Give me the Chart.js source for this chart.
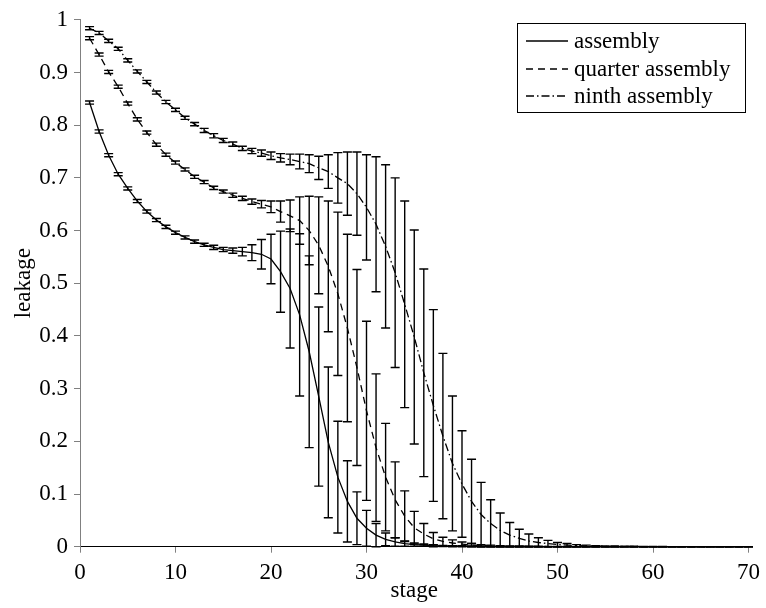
<!DOCTYPE html>
<html><head><meta charset="utf-8">
<script src="https://cdn.jsdelivr.net/npm/chart.js@4/dist/chart.umd.min.js"></script>
<style>html,body{margin:0;padding:0;background:#fff;}</style>
</head><body>
<canvas id="c" width="766" height="608"></canvas>
<script>
const stages = [1,2,3,4,5,6,7,8,9,10,11,12,13,14,15,16,17,18,19,20,21,22,23,24,25,26,27,28,29,30,31,32,33,34,35,36,37,38,39,40,41,42,43,44,45,46,47,48,49,50,51,52,53,54,55,56,57,58,59,60,61,62,63,64,65,66,67,68,69,70];
const seriesNames = ['assembly','quarter assembly','ninth assembly'];
const xTickLabels = ['0','10','20','30','40','50','60','70'];
const yTickLabels = ['0','0.1','0.2','0.3','0.4','0.5','0.6','0.7','0.8','0.9','1'];

const assemblyMean = [0.843,0.788,0.743,0.707,0.680,0.656,0.636,0.620,0.607,0.596,
0.587,0.579,0.573,0.568,0.564,0.562,0.560,0.558,0.555,0.546,
0.522,0.490,0.440,0.370,0.285,0.198,0.132,0.086,0.054,0.035,
0.022,0.014,0.009,0.006,0.004,0.003,0.002,0.0015,0.001,0.001,
0.0008,0.0006,0.0005,0.0004,0.0003,0.0002,0.0002,0.0001,0.0001,0.0001,
0,0,0,0,0,0,0,0,0,0,0,0,0,0,0,0,0,0,0,0];
const assemblyErr = [0.003,0.003,0.003,0.003,0.003,0.003,0.003,0.003,0.003,0.003,
0.003,0.003,0.003,0.004,0.004,0.005,0.008,0.015,0.028,0.047,
0.077,0.113,0.154,0.182,0.170,0.143,0.106,0.077,0.050,0.034,
0.022,0.012,0.008,0.005,0.003,0.002,0.002,0.001,0.001,0.001,
0.0008,0.0006,0.0005,0.0004,0.0003,0.0002,0.0002,0.0001,0.0001,0.0001,
0,0,0,0,0,0,0,0,0,0,0,0,0,0,0,0,0,0,0,0];

const quarterMean = [0.965,0.934,0.901,0.873,0.841,0.811,0.786,0.763,0.744,0.729,
0.716,0.702,0.692,0.681,0.674,0.667,0.661,0.655,0.650,0.645,
0.636,0.628,0.619,0.600,0.572,0.532,0.480,0.415,0.340,0.258,
0.188,0.132,0.089,0.058,0.036,0.024,0.015,0.010,0.007,0.005,
0.003,0.002,0.0015,0.001,0.0008,0.0006,0.0005,0.0004,0.0003,0.0002,
0.0002,0.0001,0.0001,0.0001,0.0001,0,0,0,0,0,0,0,0,0,0,0,0,0,0,0];
const quarterErr = [0.003,0.003,0.003,0.003,0.003,0.003,0.003,0.003,0.003,0.003,
0.003,0.003,0.003,0.003,0.003,0.004,0.004,0.005,0.007,0.011,
0.020,0.030,0.045,0.065,0.092,0.124,0.155,0.178,0.186,0.170,
0.140,0.102,0.072,0.048,0.031,0.020,0.012,0.008,0.006,0.004,
0.003,0.002,0.0015,0.001,0.0008,0.0006,0.0005,0.0004,0.0003,0.0002,
0.0002,0.0001,0.0001,0.0001,0.0001,0,0,0,0,0,0,0,0,0,0,0,0,0,0,0];

const ninthMean = [0.984,0.975,0.960,0.945,0.923,0.902,0.882,0.862,0.844,0.829,
0.814,0.802,0.790,0.780,0.771,0.764,0.756,0.751,0.747,0.742,
0.738,0.735,0.731,0.727,0.719,0.712,0.700,0.689,0.670,0.644,
0.612,0.570,0.520,0.460,0.398,0.330,0.268,0.210,0.158,0.119,
0.086,0.061,0.044,0.031,0.022,0.016,0.011,0.008,0.006,0.004,
0.003,0.002,0.0015,0.001,0.0008,0.0006,0.0005,0.0004,0.0003,0.0002,
0.0002,0.0001,0.0001,0.0001,0.0001,0,0,0,0,0];
const ninthErr = [0.003,0.003,0.003,0.003,0.003,0.003,0.003,0.003,0.003,0.003,
0.003,0.003,0.004,0.004,0.004,0.004,0.004,0.005,0.006,0.007,
0.008,0.010,0.014,0.017,0.022,0.032,0.048,0.060,0.079,0.100,
0.128,0.155,0.180,0.196,0.203,0.197,0.182,0.157,0.128,0.101,
0.080,0.061,0.045,0.033,0.024,0.017,0.013,0.009,0.006,0.004,
0.003,0.002,0.0015,0.001,0.0008,0.0006,0.0005,0.0004,0.0003,0.0002,
0.0002,0.0001,0.0001,0.0001,0.0001,0,0,0,0,0];

const FONT = 'Liberation Serif, Times New Roman, serif';
const dashStyles = [[], [7,5], [8,3,1.5,3]];
const means = [assemblyMean, quarterMean, ninthMean];
const errs = [assemblyErr, quarterErr, ninthErr];

const datasets = seriesNames.map((name, k) => ({
  label: name,
  data: stages.map((s, i) => ({x: s, y: means[k][i]})),
  errors: errs[k],
  borderColor: '#000',
  borderWidth: 1.3,
  borderDash: dashStyles[k],
  pointRadius: 0,
  tension: 0,
  fill: false,
  clip: 4
}));

const errorBars = {
  id: 'errorBars',
  afterDatasetsDraw(chart) {
    const {ctx, scales: {x, y}} = chart;
    ctx.save();
    ctx.strokeStyle = '#000';
    ctx.lineWidth = 1.4;
    ctx.setLineDash([]);
    chart.data.datasets.forEach(ds => {
      ds.data.forEach((p, i) => {
        const e = ds.errors[i];
        const lo = Math.max(0, p.y - e), hi = Math.min(1, p.y + e);
        const px = x.getPixelForValue(p.x);
        const pt = y.getPixelForValue(hi), pb = y.getPixelForValue(lo);
        ctx.beginPath();
        ctx.moveTo(px, pt); ctx.lineTo(px, pb);
        ctx.moveTo(px - 4.5, pt); ctx.lineTo(px + 4.5, pt);
        ctx.moveTo(px - 4.5, pb); ctx.lineTo(px + 4.5, pb);
        ctx.stroke();
      });
    });
    ctx.restore();
  }
};

const boxLegend = {
  id: 'boxLegend',
  afterDraw(chart) {
    const ctx = chart.ctx;
    ctx.save();
    ctx.fillStyle = '#fff';
    ctx.fillRect(517.5, 23.5, 228, 89);
    ctx.strokeStyle = '#000';
    ctx.lineWidth = 1;
    ctx.setLineDash([]);
    ctx.strokeRect(517.5, 23.5, 228, 89);
    const rows = [41, 69, 96];
    chart.data.datasets.forEach((ds, k) => {
      ctx.beginPath();
      ctx.setLineDash(ds.borderDash || []);
      ctx.lineWidth = 1.3;
      ctx.moveTo(526, rows[k]); ctx.lineTo(568, rows[k]);
      ctx.stroke();
      ctx.setLineDash([]);
      ctx.fillStyle = '#000';
      ctx.font = '23px ' + FONT;
      ctx.textBaseline = 'alphabetic';
      ctx.textAlign = 'left';
      ctx.fillText(ds.label, 574, rows[k] + 7);
    });
    ctx.restore();
  }
};

new Chart(document.getElementById('c'), {
  type: 'line',
  data: {datasets},
  plugins: [errorBars, boxLegend],
  options: {
    responsive: false,
    animation: false,
    devicePixelRatio: 1,
    layout: {padding: {left: 0, right: 14, top: 15.7, bottom: 0}},
    plugins: {legend: {display: false}, tooltip: {enabled: false}},
    scales: {
      x: {
        type: 'linear', min: 0, max: 70,
        afterFit: s => { s.height = 61.3; },
        ticks: {stepSize: 10, color: '#000', font: {family: FONT, size: 23}, padding: 6,
          callback: v => xTickLabels[Math.round(v / 10)]},
        grid: {drawOnChartArea: false, drawTicks: true, tickLength: 6, color: '#808080'},
        border: {color: '#000', width: 1},
        title: {display: true, text: 'stage', color: '#000', font: {family: FONT, size: 23}, padding: {top: 0, bottom: 3}}
      },
      y: {
        type: 'linear', min: 0, max: 1,
        afterFit: s => { s.width = 80; },
        ticks: {stepSize: 0.1, color: '#000', font: {family: FONT, size: 23}, padding: 6,
          callback: v => yTickLabels[Math.round(v * 10)]},
        grid: {drawOnChartArea: false, drawTicks: true, tickLength: 6, color: '#808080'},
        border: {color: '#808080', width: 1},
        title: {display: true, text: 'leakage', color: '#000', font: {family: FONT, size: 23}, padding: {top: 10, bottom: 0}}
      }
    }
  }
});
</script>
</body></html>
